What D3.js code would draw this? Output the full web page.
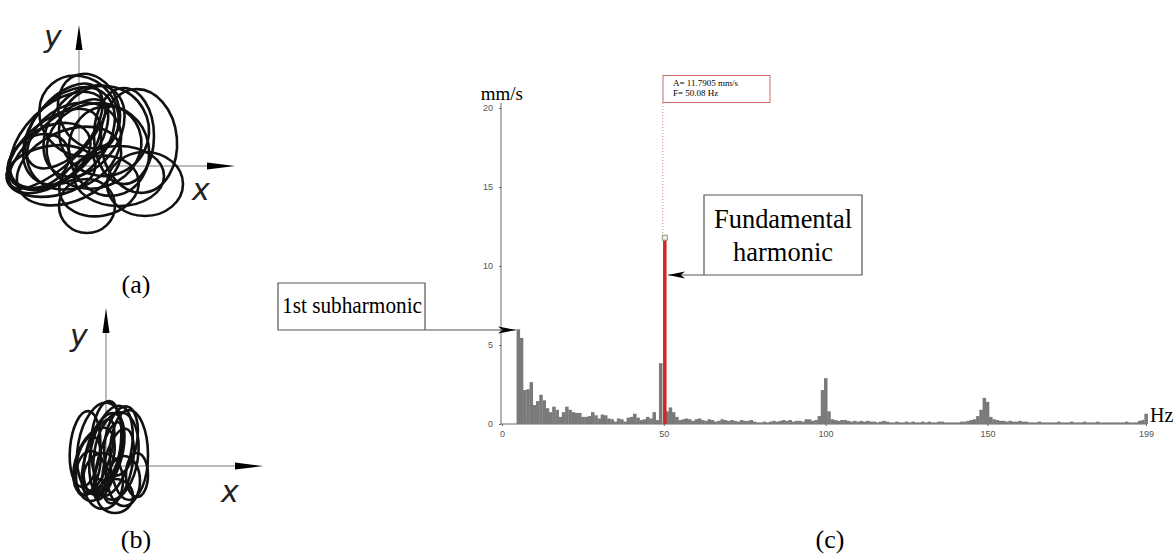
<!DOCTYPE html>
<html>
  <head>
    <script src="https://d3js.org/d3.v7.min.js"></script>
  </head>
  <style>
    body { margin: 0; background: #fff; }
  </style>
  <body>
    <svg width="1175" height="558"></svg>
    <script>
      // spectrum amplitudes, mm/s, one value per Hz (0..199)
      var amps = [
        0, 0, 0, 0, 0, 6.0, 5.45, 2.15, 2.2, 2.65,
        1.2, 1.45, 1.85, 1.5, 1.0, 0.75, 1.1, 0.9, 0.45, 0.75,
        1.1, 0.9, 0.75, 0.7, 0.7, 0.45, 0.45, 0.5, 0.75, 0.55,
        0.35, 0.6, 0.55, 0.35, 0.3, 0.15, 0.35, 0.3, 0.15, 0.4,
        0.45, 0.65, 0.4, 0.25, 0.3, 0.45, 0.35, 0.75, 0.25, 3.85,
        11.7905, 0.8, 1.05, 0.75, 0.45, 0.25, 0.3, 0.35, 0.3, 0.2,
        0.3, 0.35, 0.25, 0.2, 0.3, 0.25, 0.15, 0.2, 0.3, 0.25,
        0.2, 0.25, 0.2, 0.15, 0.25, 0.2, 0.2, 0.25, 0.15, 0.1,
        0.1, 0.15, 0.1, 0.15, 0.2, 0.15, 0.2, 0.25, 0.2, 0.25,
        0.15, 0.2, 0.2, 0.15, 0.3, 0.3, 0.2, 0.25, 0.5, 2.15,
        2.9, 0.8, 0.3, 0.25, 0.2, 0.25, 0.25, 0.2, 0.15, 0.2,
        0.15, 0.2, 0.15, 0.2, 0.15, 0.15, 0.1, 0.15, 0.2, 0.15,
        0.1, 0.1, 0.15, 0.1, 0.1, 0.15, 0.1, 0.15, 0.1, 0.1,
        0.15, 0.1, 0.15, 0.1, 0.1, 0.15, 0.15, 0.1, 0.1, 0.1,
        0.1, 0.1, 0.15, 0.15, 0.2, 0.25, 0.3, 0.5, 0.9, 1.65,
        1.4, 0.45, 0.3, 0.25, 0.2, 0.2, 0.15, 0.2, 0.15, 0.15,
        0.2, 0.15, 0.15, 0.1, 0.1, 0.1, 0.15, 0.1, 0.1, 0.1,
        0.1, 0.1, 0.15, 0.1, 0.1, 0.1, 0.15, 0.1, 0.1, 0.1,
        0.15, 0.1, 0.1, 0.1, 0.15, 0.1, 0.1, 0.1, 0.1, 0.1,
        0.1, 0.1, 0.1, 0.15, 0.1, 0.1, 0.1, 0.2, 0.25, 0.65,
      ];
      var yTicks = [0, 5, 10, 15, 20];
      var xTicks = [0, 50, 100, 150, 199];
      var peakFreq = 50;
      var peakLabel = ["A= 11.7905 mm/s", "F= 50.08 Hz"];

      // orbit loops: [cx, cy, rx, ry, rotation deg], y up
      var orbitA = [
        [-25, 15, 55, 30, 40],
        [-20, 25, 60, 35, 45],
        [-10, 30, 55, 38, 50],
        [-30, 10, 45, 28, 30],
        [-5, 20, 50, 40, 35],
        [5, 35, 50, 35, 55],
        [0, 50, 38, 42, 40],
        [10, 55, 30, 38, 20],
        [-15, 40, 50, 28, 50],
        [15, 20, 48, 42, 20],
        [30, 15, 40, 45, 10],
        [60, 25, 38, 52, 5],
        [66, -18, 38, 32, 0],
        [40, -10, 45, 30, 0],
        [8, -40, 28, 27, 0],
        [-28, -5, 45, 25, 10],
        [-40, 5, 32, 25, 30],
        [20, -20, 40, 30, 10],
        [-10, 0, 55, 35, 25],
        [25, 35, 45, 45, 30],
        [-22, 22, 62, 22, 42],
        [45, 30, 30, 48, 0],
      ];
      var orbitB = [
        [-21, 17, 15, 38, -5],
        [-6, 19, 22, 45, -10],
        [-2, 12, 18, 42, -15],
        [5, 15, 20, 46, -12],
        [10, 10, 22, 44, -8],
        [23, 11, 19, 45, 0],
        [9, -30, 18, 17, 0],
        [31, -9, 11, 22, 0],
        [-12, 5, 18, 35, -20],
        [0, 25, 15, 40, -5],
        [-15, -10, 15, 25, 0],
        [15, 25, 16, 35, -10],
        [-8, 10, 12, 38, -18],
        [2, 5, 10, 40, -15],
        [12, 0, 14, 38, -12],
        [-18, 0, 12, 30, -10],
        [18, -15, 16, 25, 0],
        [-3, -15, 20, 28, 0],
      ];

      var svg = d3.select("svg");
      var serif = "'Liberation Serif', 'Times New Roman', serif";
      var sans = "'Liberation Sans', Arial, sans-serif";

      // ---------- spectrum (c) ----------
      var x = d3.scaleLinear().domain([0, 199]).range([502, 1146]);
      var y = d3.scaleLinear().domain([0, 20]).range([424, 108]);

      var yAxis = svg
        .append("g")
        .attr("transform", "translate(501,0)")
        .call(d3.axisLeft(y).tickValues(yTicks).tickSize(2).tickPadding(6));
      yAxis.select(".domain").attr("d", "M0,103V424");
      var xAxis = svg
        .append("g")
        .attr("transform", "translate(0,424)")
        .call(d3.axisBottom(x).tickValues(xTicks).tickSize(2).tickPadding(5));
      xAxis.select(".domain").attr("d", "M501,0H1146");
      svg.selectAll(".domain").attr("stroke", "#666");
      svg.selectAll(".tick line").attr("stroke", "#666");
      svg
        .selectAll(".tick text")
        .style("font-family", sans)
        .style("font-size", "9px")
        .attr("fill", "#555");

      var bars = amps
        .map(function (d, i) {
          return { f: i, v: d };
        })
        .filter(function (d) {
          return d.f != peakFreq && d.v > 0;
        });
      svg
        .append("g")
        .selectAll("rect")
        .data(bars)
        .enter()
        .append("rect")
        .attr("x", function (d) {
          return x(d.f - 0.5);
        })
        .attr("width", function (d) {
          return x(d.f + 0.5) - x(d.f - 0.5) + 0.3;
        })
        .attr("y", function (d) {
          return y(d.v);
        })
        .attr("height", function (d) {
          return y(0) - y(d.v);
        })
        .attr("fill", "#7a7a7a");

      // peak line, marker and readout
      var px = x(peakFreq) + 1;
      var py = y(amps[peakFreq]);
      svg
        .append("line")
        .attr("x1", px - 2)
        .attr("x2", px - 2)
        .attr("y1", 103)
        .attr("y2", py)
        .attr("stroke", "#d98a8a")
        .attr("stroke-width", 1)
        .attr("stroke-dasharray", "1,2");
      svg
        .append("line")
        .attr("x1", px)
        .attr("x2", px)
        .attr("y1", py)
        .attr("y2", y(0))
        .attr("stroke", "#d42424")
        .attr("stroke-width", 3.5);
      svg
        .append("rect")
        .attr("x", px - 2.5)
        .attr("y", py - 2.5)
        .attr("width", 5)
        .attr("height", 5)
        .attr("fill", "#eee")
        .attr("stroke", "#9a9a6a");
      svg
        .append("rect")
        .attr("x", 663)
        .attr("y", 75.5)
        .attr("width", 107)
        .attr("height", 27)
        .attr("fill", "#fff")
        .attr("stroke", "#cc6a6a");
      svg
        .selectAll(".readout")
        .data(peakLabel)
        .enter()
        .append("text")
        .attr("x", 673)
        .attr("y", function (d, i) {
          return 86 + i * 9.5;
        })
        .style("font-family", serif)
        .style("font-size", "9px")
        .text(function (d) {
          return d;
        });

      svg
        .append("text")
        .attr("x", 523)
        .attr("y", 100)
        .attr("text-anchor", "end")
        .style("font-family", serif)
        .style("font-size", "19px")
        .text("mm/s");
      svg
        .append("text")
        .attr("x", 1150)
        .attr("y", 422)
        .style("font-family", serif)
        .style("font-size", "20px")
        .text("Hz");

      // callouts
      function arrowHead(tx, ty, dir, len) {
        svg
          .append("path")
          .attr(
            "d",
            "M" + tx + "," + ty +
              "L" + (tx - dir * len) + "," + (ty - 3.5) +
              "L" + (tx - dir * len * 0.75) + "," + ty +
              "L" + (tx - dir * len) + "," + (ty + 3.5) + "Z"
          )
          .attr("fill", "#000");
      }

      svg
        .append("path")
        .attr("d", "M704,275V195H862V275H668")
        .attr("fill", "none")
        .attr("stroke", "#555")
        .attr("stroke-width", 1.2);
      arrowHead(668, 275, -1, 17);
      svg
        .append("text")
        .attr("x", 783)
        .attr("y", 228)
        .attr("text-anchor", "middle")
        .attr("textLength", 138)
        .attr("lengthAdjust", "spacingAndGlyphs")
        .style("font-family", serif)
        .style("font-size", "28px")
        .text("Fundamental");
      svg
        .append("text")
        .attr("x", 783)
        .attr("y", 261)
        .attr("text-anchor", "middle")
        .attr("textLength", 100)
        .attr("lengthAdjust", "spacingAndGlyphs")
        .style("font-family", serif)
        .style("font-size", "28px")
        .text("harmonic");

      svg
        .append("path")
        .attr("d", "M425,330V283H278V330H516")
        .attr("fill", "none")
        .attr("stroke", "#555")
        .attr("stroke-width", 1.2);
      arrowHead(516, 330, 1, 18);
      svg
        .append("text")
        .attr("x", 352)
        .attr("y", 313)
        .attr("text-anchor", "middle")
        .attr("textLength", 140)
        .attr("lengthAdjust", "spacingAndGlyphs")
        .style("font-family", serif)
        .style("font-size", "23px")
        .text("1st subharmonic");

      // ---------- orbits (a), (b) ----------
      function orbit(loops, ox, oy, xEnd, yEnd, xLab, yLab) {
        var sx = d3.scaleLinear().domain([0, 1]).range([ox, ox + 1]);
        var sy = d3.scaleLinear().domain([0, 1]).range([oy, oy - 1]);
        var g = svg.append("g");
        g.append("path")
          .attr("d", "M" + ox + "," + oy + "H" + (xEnd - 20) + "M" + ox + "," + oy + "V" + (yEnd + 20))
          .attr("stroke", "#777")
          .attr("stroke-width", 1);
        g.append("path")
          .attr("d", "M" + xEnd + "," + oy + "L" + (xEnd - 28) + "," + (oy - 3.5) + "L" + (xEnd - 28) + "," + (oy + 3.5) + "Z")
          .attr("fill", "#000");
        g.append("path")
          .attr("d", "M" + ox + "," + yEnd + "L" + (ox - 3.5) + "," + (yEnd + 25) + "L" + (ox + 3.5) + "," + (yEnd + 25) + "Z")
          .attr("fill", "#000");
        g.selectAll("ellipse")
          .data(loops)
          .enter()
          .append("ellipse")
          .attr("cx", 0)
          .attr("cy", 0)
          .attr("rx", function (d) {
            return sx(d[2]) - sx(0);
          })
          .attr("ry", function (d) {
            return sy(0) - sy(d[3]);
          })
          .attr("transform", function (d) {
            return "translate(" + sx(d[0]) + "," + sy(d[1]) + ") rotate(" + -d[4] + ")";
          })
          .attr("fill", "none")
          .attr("stroke", "#111")
          .attr("stroke-width", 2.6);
        g.append("text")
          .attr("x", yLab[0])
          .attr("y", yLab[1])
          .style("font-family", "'DejaVu Sans', sans-serif")
          .style("font-weight", 200)
          .style("font-style", "italic")
          .style("font-size", "30px")
          .attr("fill", "#222")
          .text("y");
        g.append("text")
          .attr("x", xLab[0])
          .attr("y", xLab[1])
          .style("font-family", "'DejaVu Sans', sans-serif")
          .style("font-weight", 200)
          .style("font-style", "italic")
          .style("font-size", "30px")
          .attr("fill", "#222")
          .text("x");
      }
      orbit(orbitA, 79, 166, 235, 25, [192, 200], [44, 47]);
      orbit(orbitB, 106, 466, 263, 308, [221, 502], [70, 346]);

      var panelLabels = [
        ["(a)", 136, 293],
        ["(b)", 136, 548],
        ["(c)", 830, 548],
      ];
      svg
        .selectAll(".panel")
        .data(panelLabels)
        .enter()
        .append("text")
        .attr("x", function (d) {
          return d[1];
        })
        .attr("y", function (d) {
          return d[2];
        })
        .attr("text-anchor", "middle")
        .style("font-family", serif)
        .style("font-size", "26px")
        .text(function (d) {
          return d[0];
        });
    </script>
  </body>
</html>
